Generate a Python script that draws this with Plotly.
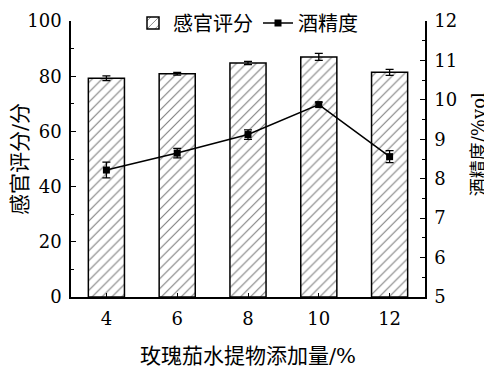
import plotly.graph_objects as go

categories = ["4", "6", "8", "10", "12"]
sensory_score = [79.3, 80.9, 84.8, 87.0, 81.4]
sensory_err = [0.85, 0.5, 0.6, 1.3, 1.1]
alcohol = [8.22, 8.65, 9.12, 9.88, 8.56]
alcohol_err = [0.2, 0.12, 0.12, 0.06, 0.15]

FONT = "DejaVu Serif, Noto Sans CJK SC"
CJK = "Noto Sans CJK SC"

fig = go.Figure()
fig.add_trace(go.Bar(
    x=categories, y=sensory_score, name="感官评分",
    width=0.51,
    marker=dict(color="white", line=dict(color="black", width=1.5),
                pattern=dict(shape="/", fgcolor="black", bgcolor="white", size=7, solidity=0.16)),
    error_y=dict(type="data", array=sensory_err, color="black", thickness=1.3, width=4),
))
fig.add_trace(go.Scatter(
    x=categories, y=alcohol, name="酒精度", yaxis="y2",
    mode="lines+markers",
    line=dict(color="black", width=1.5),
    marker=dict(symbol="square", size=7, color="black"),
    error_y=dict(type="data", array=alcohol_err, color="black", thickness=1.3, width=4),
))

axis_common = dict(showline=True, linecolor="black", linewidth=1.5, showgrid=False,
                   zeroline=False, ticks="inside", tickcolor="black", tickwidth=1.3,
                   automargin=False, tickfont=dict(family=FONT, size=18, color="black"))

fig.update_layout(
    width=484, height=360,
    margin=dict(l=63, r=67, t=13, b=71, autoexpand=False),
    paper_bgcolor="white", plot_bgcolor="white",
    font=dict(family=FONT, size=20, color="black"),
    showlegend=True,
    legend=dict(orientation="h", x=0.5, xanchor="center",
                y=0.993, yanchor="middle",
                font=dict(family=CJK, size=20, color="black"),
                bgcolor="rgba(0,0,0,0)", itemwidth=30, tracegroupgap=0),
    xaxis=dict(**axis_common, type="category", ticklen=4, range=[-0.5, 4.5],
               ticklabelstandoff=5,
               title=dict(text="玫瑰茄水提物添加量/%", font=dict(family=FONT, size=21), standoff=22)),
    yaxis=dict(**axis_common, range=[0, 100], dtick=20, ticklen=5, ticklabelstandoff=4,
               minor=dict(dtick=10, ticks="inside", ticklen=3, tickcolor="black", tickwidth=1.3),
               title=dict(text="感官评分/分", font=dict(family=FONT, size=21), standoff=6)),
    yaxis2=dict(**axis_common, range=[5, 12], dtick=1, ticklen=5, overlaying="y", side="right",
                ticklabelstandoff=4,
                minor=dict(dtick=0.5, ticks="inside", ticklen=3, tickcolor="black", tickwidth=1.3)),
    annotations=[dict(text="酒精度/%vol", xref="paper", yref="paper", x=1.150, y=0.554,
                      xanchor="center", yanchor="middle", textangle=-90, showarrow=False,
                      font=dict(family=FONT, size=18, color="black"))],
)

fig.write_html("out.html")
